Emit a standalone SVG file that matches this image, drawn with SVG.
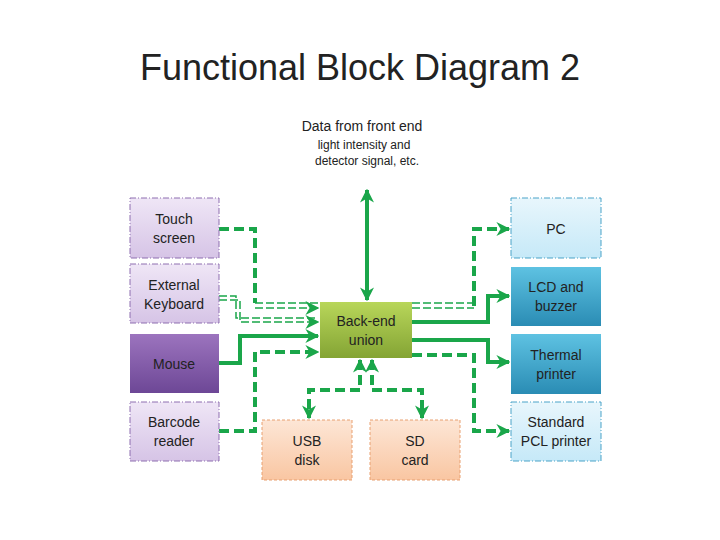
<svg xmlns="http://www.w3.org/2000/svg" width="720" height="540" viewBox="0 0 720 540">
<defs>
<linearGradient id="gP" x1="0" y1="0" x2="0" y2="1"><stop offset="0" stop-color="#efe6f6"/><stop offset="1" stop-color="#d6c4e6"/></linearGradient>
<linearGradient id="gPd" x1="0" y1="0" x2="0" y2="1"><stop offset="0" stop-color="#9c74be"/><stop offset="1" stop-color="#6d4796"/></linearGradient>
<linearGradient id="gB" x1="0" y1="0" x2="0" y2="1"><stop offset="0" stop-color="#e8f6fc"/><stop offset="1" stop-color="#c6e9f8"/></linearGradient>
<linearGradient id="gBd" x1="0" y1="0" x2="0" y2="1"><stop offset="0" stop-color="#5ec2e2"/><stop offset="1" stop-color="#2a8cb4"/></linearGradient>
<linearGradient id="gG" x1="0" y1="0" x2="0" y2="1"><stop offset="0" stop-color="#b8d65a"/><stop offset="1" stop-color="#84a434"/></linearGradient>
<linearGradient id="gO" x1="0" y1="0" x2="0" y2="1"><stop offset="0" stop-color="#fde6d6"/><stop offset="1" stop-color="#f9c6a2"/></linearGradient>
<marker id="ar" viewBox="0 0 10 10" refX="9" refY="5" markerWidth="4" markerHeight="4" orient="auto-start-reverse" markerUnits="strokeWidth"><path d="M0,0 L10,5 L0,10 L3,5 z" fill="#1aa64a"/></marker>
<marker id="ar2" viewBox="0 0 10 10" refX="9" refY="5" markerWidth="14" markerHeight="14" orient="auto-start-reverse" markerUnits="userSpaceOnUse"><path d="M0,0 L10,5 L0,10 L3,5 z" fill="#1aa64a"/></marker>
</defs>
<style>
text{font-family:"Liberation Sans",Arial,sans-serif;fill:#222;text-anchor:middle}
.lbl{font-size:14px}
.dl{stroke:#8e6fb0;stroke-width:1;stroke-dasharray:6 2 1 2}
.db{stroke:#4aa3c8;stroke-width:1;stroke-dasharray:6 2 1 2}
.do{stroke:#e8a070;stroke-width:1;stroke-dasharray:3 2}
.s{fill:none;stroke:#1aa64a;stroke-width:4}
.d{fill:none;stroke:#1aa64a;stroke-width:4;stroke-dasharray:10 5}
.dd{fill:none;stroke:#1aa64a;stroke-width:1.5;stroke-dasharray:8 3}
</style>
<text x="360" y="80" style="font-size:36px">Functional Block Diagram 2</text>
<text x="362" y="131" style="font-size:14px">Data from front end</text>
<text x="364" y="149" style="font-size:12px">light intensity and</text>
<text x="367" y="165" style="font-size:12px">detector signal, etc.</text>

<g id="connectors">
<path class="s" d="M367,190 V300" marker-start="url(#ar2)" marker-end="url(#ar2)"/>
<path class="d" d="M219,229 H255 V303"/>
<path class="dd" d="M255,303 H318 M255,308 H318" marker-end="url(#ar2)"/>
<path class="dd" d="M219,296 H236 V318 H318 M219,300 H240 V322 H318" marker-end="url(#ar2)"/>
<path class="s" d="M219,363 H240 V336 H318" marker-end="url(#ar2)"/>
<path class="d" d="M219,431 H255 V352 H318" marker-end="url(#ar2)"/>
<path class="dd" d="M412,303 H474 M412,308 H474"/>
<path class="d" d="M474,306 V229 H509" marker-end="url(#ar2)"/>
<path class="s" d="M412,322 H488 V296 H509" marker-end="url(#ar2)"/>
<path class="s" d="M412,340 H488 V362 H509" marker-end="url(#ar2)"/>
<path class="d" d="M412,355 H474 V431 H509" marker-end="url(#ar2)"/>
<path class="d" d="M360,360 V390 H309 V418" marker-start="url(#ar2)" marker-end="url(#ar2)"/>
<path class="d" d="M372,360 V390 H422 V418" marker-start="url(#ar2)" marker-end="url(#ar2)"/>
</g>

<g id="touch"><rect x="130" y="198" width="89" height="60" fill="url(#gP)" class="dl"/><text class="lbl" x="174" y="224">Touch</text><text class="lbl" x="174" y="243">screen</text></g>
<g id="keyboard"><rect x="130" y="264" width="89" height="59" fill="url(#gP)" class="dl"/><text class="lbl" x="174" y="290">External</text><text class="lbl" x="174" y="309">Keyboard</text></g>
<g id="mouse"><rect x="130" y="334" width="89" height="59" fill="url(#gPd)"/><text class="lbl" x="174" y="369">Mouse</text></g>
<g id="barcode"><rect x="130" y="402" width="89" height="59" fill="url(#gP)" class="dl"/><text class="lbl" x="174" y="427">Barcode</text><text class="lbl" x="174" y="446">reader</text></g>
<g id="backend"><rect x="320" y="302" width="92" height="56" fill="url(#gG)"/><text class="lbl" x="366" y="326">Back-end</text><text class="lbl" x="366" y="345">union</text></g>
<g id="pc"><rect x="511" y="198" width="90" height="60" fill="url(#gB)" class="db"/><text class="lbl" x="556" y="234">PC</text></g>
<g id="lcd"><rect x="511" y="267" width="90" height="59" fill="url(#gBd)"/><text class="lbl" x="556" y="292">LCD and</text><text class="lbl" x="556" y="311">buzzer</text></g>
<g id="thermal"><rect x="511" y="334" width="90" height="60" fill="url(#gBd)"/><text class="lbl" x="556" y="360">Thermal</text><text class="lbl" x="556" y="379">printer</text></g>
<g id="pcl"><rect x="511" y="402" width="90" height="59" fill="url(#gB)" class="db"/><text class="lbl" x="556" y="427">Standard</text><text class="lbl" x="556" y="446">PCL printer</text></g>
<g id="usb"><rect x="262" y="420" width="90" height="60" fill="url(#gO)" class="do"/><text class="lbl" x="307" y="446">USB</text><text class="lbl" x="307" y="465">disk</text></g>
<g id="sd"><rect x="370" y="420" width="90" height="60" fill="url(#gO)" class="do"/><text class="lbl" x="415" y="446">SD</text><text class="lbl" x="415" y="465">card</text></g>
</svg>
